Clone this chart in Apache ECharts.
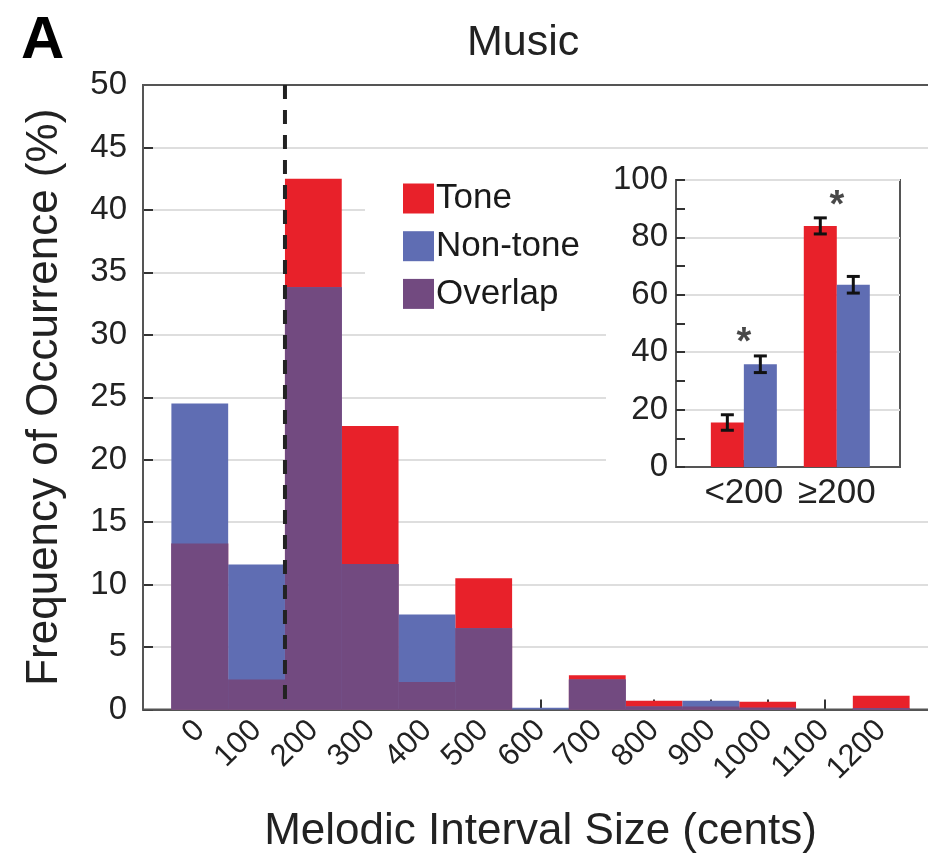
<!DOCTYPE html>
<html>
<head>
<meta charset="utf-8">
<script src="https://cdn.jsdelivr.net/npm/echarts@6/dist/echarts.min.js"></script>
<style>
  html, body { margin: 0; padding: 0; background: #fff; }
  #chart { width: 928px; height: 856px; }
</style>
</head>
<body>
<div id="chart"></div>
<script>
// ---------- data ----------
const cents    = [0, 100, 200, 300, 400, 500, 600, 700, 800, 900, 1000, 1100, 1200];
const tone     = [13.3, 2.4, 42.5, 22.7, 2.2, 10.5, 0, 2.75, 0.7, 0.25, 0.62, 0, 1.1];
const nonTone  = [24.5, 11.6, 33.8, 11.65, 7.6, 6.5, 0.15, 2.4, 0.25, 0.7, 0.15, 0, 0.1];
const overlap  = [13.3, 2.4, 33.8, 11.65, 2.2, 6.5, 0, 2.4, 0.25, 0.25, 0.15, 0, 0.1];
const binWidth = 100;
const boundaryCents = 150;

const insetCats    = ['<200', '≥200'];
const insetTone    = [15.5, 84.0];
const insetToneErr = [2.7, 2.8];
const insetNon     = [35.8, 63.5];
const insetNonErr  = [2.9, 2.9];
const insetStarY   = [47, 94.6];

// ---------- styling ----------
const FONT = '"Liberation Sans", Arial, Helvetica, sans-serif';
const RED = '#E8212A', BLUE = '#5F6DB3', PURPLE = '#724A80';
const AXIS = '#555', TXT = '#222';

const chart = echarts.init(document.getElementById('chart'), null, { renderer: 'canvas' });

function histRender(params, api) {
  const x = api.value(0), y = api.value(1);
  if (!(y > 0)) return null;
  const p0 = api.coord([x - binWidth / 2, y]);
  const p1 = api.coord([x + binWidth / 2, 0]);
  return {
    type: 'rect',
    shape: { x: p0[0], y: p0[1], width: p1[0] - p0[0], height: p1[1] - p0[1] },
    style: { fill: api.visual('color') }
  };
}

const BAR_W = 33, CAP = 6.5;
function insetRender(side) {
  return function (params, api) {
    const x = api.value(0), m = api.value(1), e = api.value(2);
    const top = api.coord([x, m]);
    const base = api.coord([x, 0]);
    const x0 = side < 0 ? top[0] - BAR_W : top[0];
    const cx = x0 + BAR_W / 2;
    const hi = api.coord([x, m + e])[1];
    const lo = api.coord([x, m - e])[1];
    const ls = { stroke: '#111', lineWidth: 3 };
    return {
      type: 'group',
      children: [
        { type: 'rect', shape: { x: x0, y: top[1], width: BAR_W, height: base[1] - top[1] }, style: { fill: api.visual('color') } },
        { type: 'line', shape: { x1: cx, y1: hi, x2: cx, y2: lo }, style: ls },
        { type: 'line', shape: { x1: cx - CAP, y1: hi, x2: cx + CAP, y2: hi }, style: ls },
        { type: 'line', shape: { x1: cx - CAP, y1: lo, x2: cx + CAP, y2: lo }, style: ls }
      ]
    };
  };
}

const option = {
  animation: false,
  backgroundColor: '#fff',
  textStyle: { fontFamily: FONT },
  title: [
    { text: 'A', left: 16, top: 6, textStyle: { fontSize: 60, fontWeight: 'bold', color: '#000', fontFamily: FONT } },
    { text: 'Music', left: 462, top: 17, textStyle: { fontSize: 43, fontWeight: 'normal', color: TXT, fontFamily: FONT } }
  ],
  legend: {
    orient: 'vertical', left: 398, top: 176,
    itemWidth: 31, itemHeight: 30, itemGap: 12.7, icon: 'rect',
    selectedMode: false, z: 10,
    textStyle: { fontSize: 35, lineHeight: 30, color: '#1a1a1a', fontFamily: FONT, padding: [0, 0, 0, -3] },
    data: ['Tone', 'Non-tone', 'Overlap']
  },
  grid: [
    { left: 143, top: 85, width: 795, height: 624.5, show: true, borderColor: AXIS, borderWidth: 2,
      backgroundColor: 'transparent', z: 2, outerBoundsMode: 'none', containLabel: false },
    { left: 676, top: 180, width: 224, height: 287, show: true, borderColor: AXIS, borderWidth: 2,
      backgroundColor: 'transparent', z: 6, outerBoundsMode: 'none', containLabel: false }
  ],
  xAxis: [
    {
      gridIndex: 0, type: 'value', min: -100, max: 1300, interval: 100,
      axisLine: { onZero: false, lineStyle: { color: AXIS, width: 2 } },
      axisTick: { inside: true, length: 10, lineStyle: { color: '#333', width: 2 } },
      axisLabel: { rotate: 45, fontSize: 31, color: TXT, margin: 16,
        formatter: v => (v < 0 || v > 1200) ? '' : String(v) },
      splitLine: { show: false },
      name: 'Melodic Interval Size (cents)', nameLocation: 'middle', nameGap: 100,
      nameTextStyle: { fontSize: 44, color: TXT, fontFamily: FONT }
    },
    {
      gridIndex: 1, type: 'value', min: 0.27, max: 2.68, z: 6,
      axisLine: { onZero: false, lineStyle: { color: AXIS, width: 2 } },
      axisTick: { inside: true, length: 7, customValues: [1, 2], lineStyle: { color: '#333', width: 2 } },
      axisLabel: { customValues: [1, 2], fontSize: 35, color: TXT, margin: 9,
        formatter: v => insetCats[Math.round(v) - 1] || '' },
      splitLine: { show: false }
    }
  ],
  yAxis: [
    {
      gridIndex: 0, type: 'value', min: 0, max: 50, interval: 5,
      axisLine: { show: true, onZero: false, lineStyle: { color: AXIS, width: 2 } },
      axisTick: { show: true, inside: true, length: 10, lineStyle: { color: '#333', width: 2 } },
      axisLabel: { fontSize: 33, color: TXT, margin: 16 },
      splitLine: { show: true, lineStyle: { color: '#dedede', width: 2 } },
      name: 'Frequency of Occurrence (%)', nameLocation: 'middle', nameGap: 76, nameRotate: 90,
      nameTextStyle: { fontSize: 44, color: TXT, fontFamily: FONT }
    },
    {
      gridIndex: 1, type: 'value', min: 0, max: 100, interval: 20, z: 6,
      axisLine: { show: true, onZero: false, lineStyle: { color: AXIS, width: 2 } },
      axisTick: { show: true, inside: true, length: 9, lineStyle: { color: '#333', width: 2 } },
      minorTick: { show: true, splitNumber: 2, length: 9, lineStyle: { color: '#333', width: 2 } },
      axisLabel: { fontSize: 33, color: TXT, margin: 8 },
      splitLine: { show: true, lineStyle: { color: '#dedede', width: 2 } }
    }
  ],
  graphic: [
    { type: 'rect', z: 1, shape: { x: 365, y: 156, width: 245, height: 144 }, style: { fill: '#fff' } },
    { type: 'rect', z: 1, shape: { x: 606, y: 156, width: 330, height: 340 }, style: { fill: '#fff' } }
  ],
  series: [
    { name: 'Tone', type: 'custom', xAxisIndex: 0, yAxisIndex: 0, z: 3,
      itemStyle: { color: RED }, renderItem: histRender,
      data: cents.map((c, i) => [c, tone[i]]) },
    { name: 'Non-tone', type: 'custom', xAxisIndex: 0, yAxisIndex: 0, z: 3,
      itemStyle: { color: BLUE }, renderItem: histRender,
      data: cents.map((c, i) => [c, nonTone[i]]) },
    { name: 'Overlap', type: 'custom', xAxisIndex: 0, yAxisIndex: 0, z: 3,
      itemStyle: { color: PURPLE }, renderItem: histRender,
      data: cents.map((c, i) => [c, overlap[i]]) },
    { name: 'boundary', type: 'line', xAxisIndex: 0, yAxisIndex: 0, z: 4,
      symbol: 'none', silent: true,
      lineStyle: { color: '#222', width: 4, type: [14, 11] },
      data: [[boundaryCents, 50], [boundaryCents, 0]] },
    { name: 'insetTone', type: 'custom', xAxisIndex: 1, yAxisIndex: 1, z: 7,
      itemStyle: { color: RED }, renderItem: insetRender(-1),
      data: insetCats.map((c, i) => [i + 1, insetTone[i], insetToneErr[i]]) },
    { name: 'insetNon', type: 'custom', xAxisIndex: 1, yAxisIndex: 1, z: 7,
      itemStyle: { color: BLUE }, renderItem: insetRender(1),
      data: insetCats.map((c, i) => [i + 1, insetNon[i], insetNonErr[i]]) },
    { name: 'sig', type: 'scatter', xAxisIndex: 1, yAxisIndex: 1, z: 8,
      symbolSize: 2, itemStyle: { color: 'rgba(0,0,0,0)' }, silent: true,
      label: { show: true, position: 'inside', formatter: '*', fontSize: 38, fontWeight: 'bold', color: '#1a1a1a', offset: [0, 11] },
      data: insetCats.map((c, i) => [i + 1, insetStarY[i]]) }
  ]
};

chart.setOption(option);
</script>
</body>
</html>
